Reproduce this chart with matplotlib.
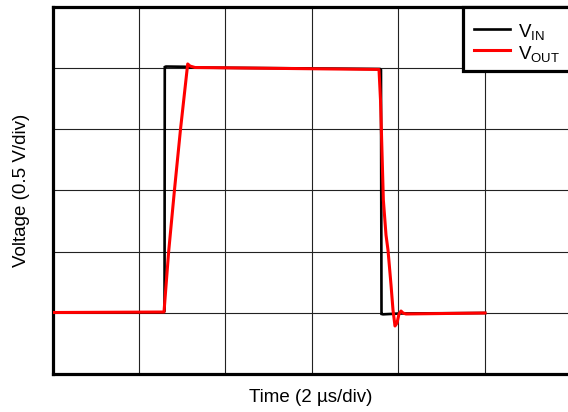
import matplotlib
matplotlib.use("Agg")
import matplotlib.pyplot as plt
from matplotlib.patches import Rectangle

plt.rcParams['font.family'] = ['Liberation Sans', 'DejaVu Sans']
plt.rcParams['mathtext.fontset'] = 'custom'
plt.rcParams['mathtext.rm'] = 'Liberation Sans'

# Time in microseconds (2 us/div), voltage in volts (0.5 V/div)
vin_t = [0.0, 2.566, 2.590, 2.596, 2.624, 3.064, 3.179, 7.572, 7.595, 7.607, 7.642, 8.035, 10.0]
vin_v = [0.502, 0.502, 0.514, 2.506, 2.510, 2.508, 2.502, 2.490, 2.482, 0.490, 0.487, 0.494, 0.498]

vout_t = [0.0, 2.578, 2.685, 2.820, 2.958, 3.126, 3.179, 3.295, 7.549, 7.584, 7.650,
          7.711, 7.757, 7.827, 7.873, 7.919, 7.965, 8.012, 8.058, 8.104, 8.173, 10.0]
vout_v = [0.502, 0.506, 0.996, 1.502, 1.992, 2.531, 2.514, 2.502, 2.486, 2.237, 1.420,
          1.135, 1.012, 0.727, 0.522, 0.392, 0.416, 0.490, 0.514, 0.498, 0.490, 0.498]

x_grid = [0, 2, 4, 6, 8, 10, 12]
y_grid = [0, 0.5, 1.0, 1.5, 2.0, 2.5, 3.0]

W, H = 568, 412
fig = plt.figure(figsize=(W / 100, H / 100), dpi=100)
ax = fig.add_axes([52.5 / W, (H - 374) / H, (571.5 - 52.5) / W, (374 - 6.5) / H])
ax.set_xlim(0, 12)
ax.set_ylim(0, 3)
ax.set_xticks(x_grid)
ax.set_yticks(y_grid)
ax.tick_params(length=0, labelbottom=False, labelleft=False)
ax.grid(True, color='#222222', linewidth=0.8)
for s in ax.spines.values():
    s.set_linewidth(2.3)
    s.set_color('black')

ax.plot(vin_t, vin_v, color='black', linewidth=1.9, solid_joinstyle='miter', zorder=3)
ax.plot(vout_t, vout_v, color='#ff0000', linewidth=2.2, solid_joinstyle='round', zorder=4)

fig.text(311 / W, 1 - 397 / H, 'Time (2 µs/div)', fontsize=13.5, ha='center', va='center')
fig.text(22 / W, 1 - 190 / H, 'Voltage (0.5 V/div)', fontsize=13.5, ha='center', va='center',
         rotation=90)

# Legend box
lx0 = (463 - 52.5) / 519
ly0 = (374 - 71) / 367.5
rect = Rectangle((lx0, ly0), 1.2 - lx0, 1.0 - ly0, transform=ax.transAxes,
                 facecolor='white', edgecolor='black', linewidth=2.3, zorder=10,
                 clip_on=False)
ax.add_patch(rect)
hx0 = (474 - 52.5) / 519
hx1 = (510 - 52.5) / 519
yb = (374 - 29) / 367.5
yr = (374 - 50) / 367.5
ax.plot([hx0, hx1], [yb, yb], transform=ax.transAxes, color='black', linewidth=1.9,
        zorder=11, clip_on=False)
ax.plot([hx0, hx1], [yr, yr], transform=ax.transAxes, color='#ff0000', linewidth=2.2,
        zorder=11, clip_on=False)
tx = (518.5 - 52.5) / 519
ax.text(tx, (374 - 37) / 367.5, r'$\mathregular{V_{IN}}$', transform=ax.transAxes,
        fontsize=13.5, va='baseline', ha='left', zorder=12)
ax.text(tx, (374 - 59.5) / 367.5, r'$\mathregular{V_{OUT}}$', transform=ax.transAxes,
        fontsize=13.5, va='baseline', ha='left', zorder=12)

fig.savefig('out.png', dpi=100)
